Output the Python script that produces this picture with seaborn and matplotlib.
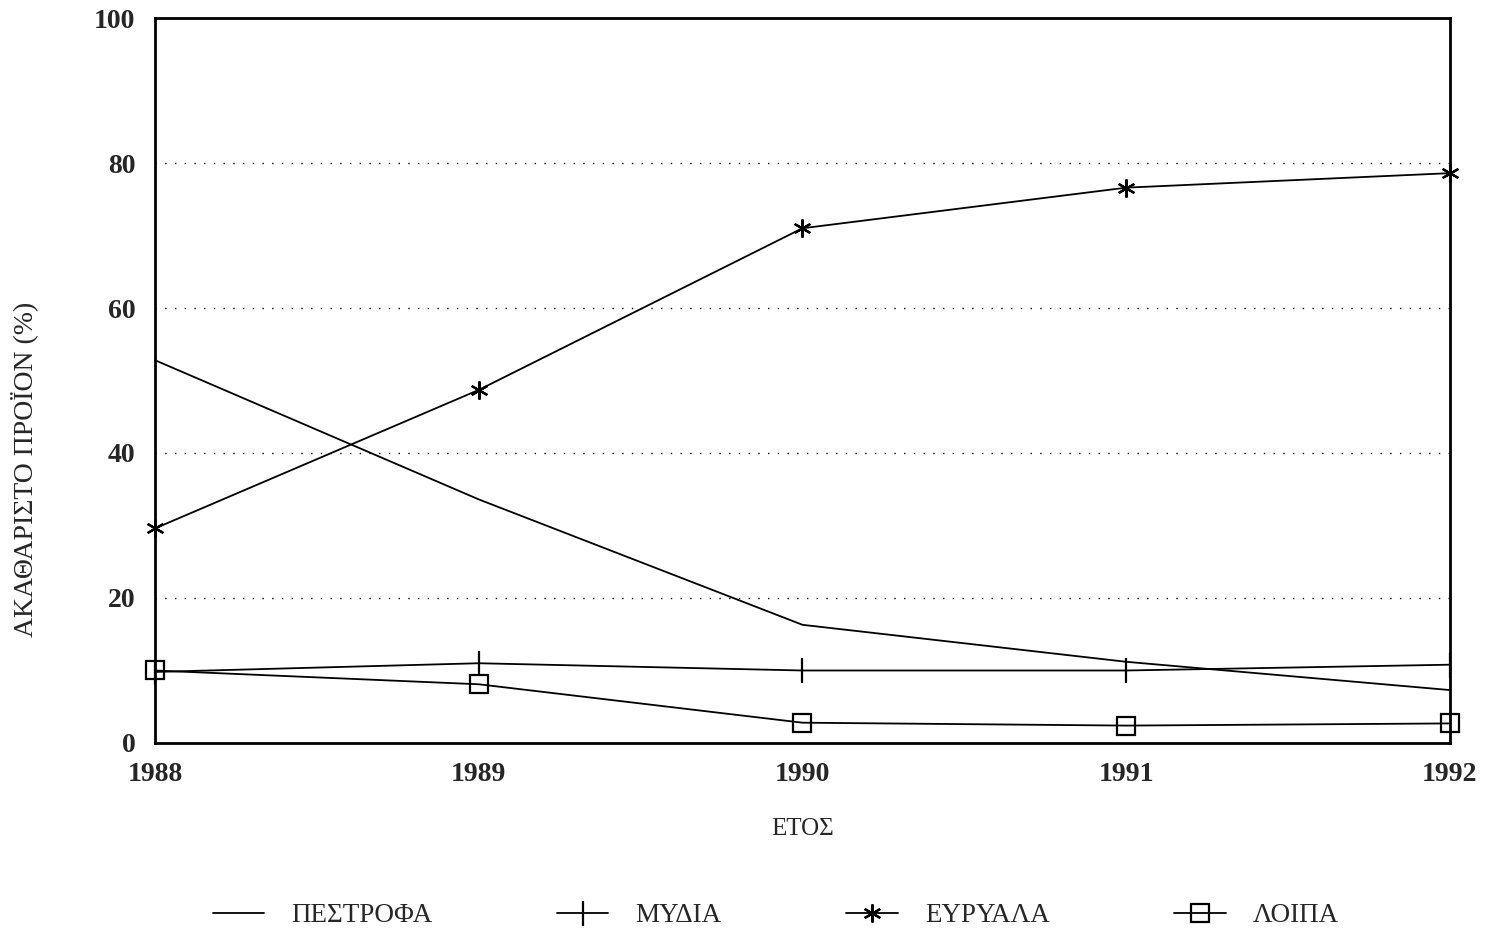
import pandas as pd
import seaborn as sns
import matplotlib.pyplot as plt

years = [1988, 1989, 1990, 1991, 1992]
pestrofa = [52.8, 33.6, 16.3, 11.2, 7.3]
mydia = [9.8, 11.0, 10.0, 10.0, 10.8]
euryala = [29.6, 48.7, 71.0, 76.6, 78.6]
loipa = [10.0, 8.1, 2.8, 2.4, 2.7]
names = ['ΠΕΣΤΡΟΦΑ', 'ΜΥΔΙΑ', 'ΕΥΡΥΑΛΑ', 'ΛΟΙΠΑ']

sns.set_style('white')
plt.rcParams['font.family'] = ['Liberation Serif', 'DejaVu Serif']

fig, ax = plt.subplots(figsize=(14.92, 9.38), dpi=100)
fig.subplots_adjust(left=0.1039, right=0.9718, bottom=0.2079, top=0.9808)

series = [pestrofa, mydia, euryala, loipa]
markers = [None, '|', (6, 2, 0), 's']
msizes = [0, 18, 13, 13]

for name, vals, mk, ms in zip(names, series, markers, msizes):
    df = pd.DataFrame({'year': years, 'value': vals})
    sns.lineplot(
        ax=ax,
        data=df,
        x='year',
        y='value',
        label=name,
        color='black',
        linewidth=1.3,
        marker=mk,
        markersize=ms,
        markerfacecolor='none',
        markeredgecolor='black',
        markeredgewidth=1.6,
        clip_on=False,
        zorder=3,
    )

ax.set_xlim(1988, 1992)
ax.set_ylim(0, 100)
ax.set_xticks(years)
ax.set_yticks([0, 20, 40, 60, 80, 100])
for y in [20, 40, 60, 80]:
    ax.axhline(y, color='black', linestyle=(0, (1, 6)), linewidth=1.0, zorder=0)

ax.tick_params(axis='both', direction='in', length=12, width=1.5, labelsize=20)
ax.tick_params(axis='x', pad=14)
ax.tick_params(axis='y', pad=14)
for lbl in ax.get_xticklabels() + ax.get_yticklabels():
    lbl.set_fontweight('bold')

for s in ax.spines.values():
    s.set_linewidth(2)
    s.set_color('black')

ax.set_xlabel('ΕΤΟΣ', fontsize=18, labelpad=22)
ax.set_ylabel('ΑΚΑΘΑΡΙΣΤΟ ΠΡΟΪΟΝ (%)', fontsize=20)
ax.yaxis.set_label_coords(-0.09, 0.377)

ax.legend(loc='center', bbox_to_anchor=(0.52, 0.024), bbox_transform=fig.transFigure,
          ncol=4, frameon=False, fontsize=19.5, handlelength=1.9, columnspacing=4.6,
          handletextpad=1.0)

fig.savefig('out.png', dpi=100)
